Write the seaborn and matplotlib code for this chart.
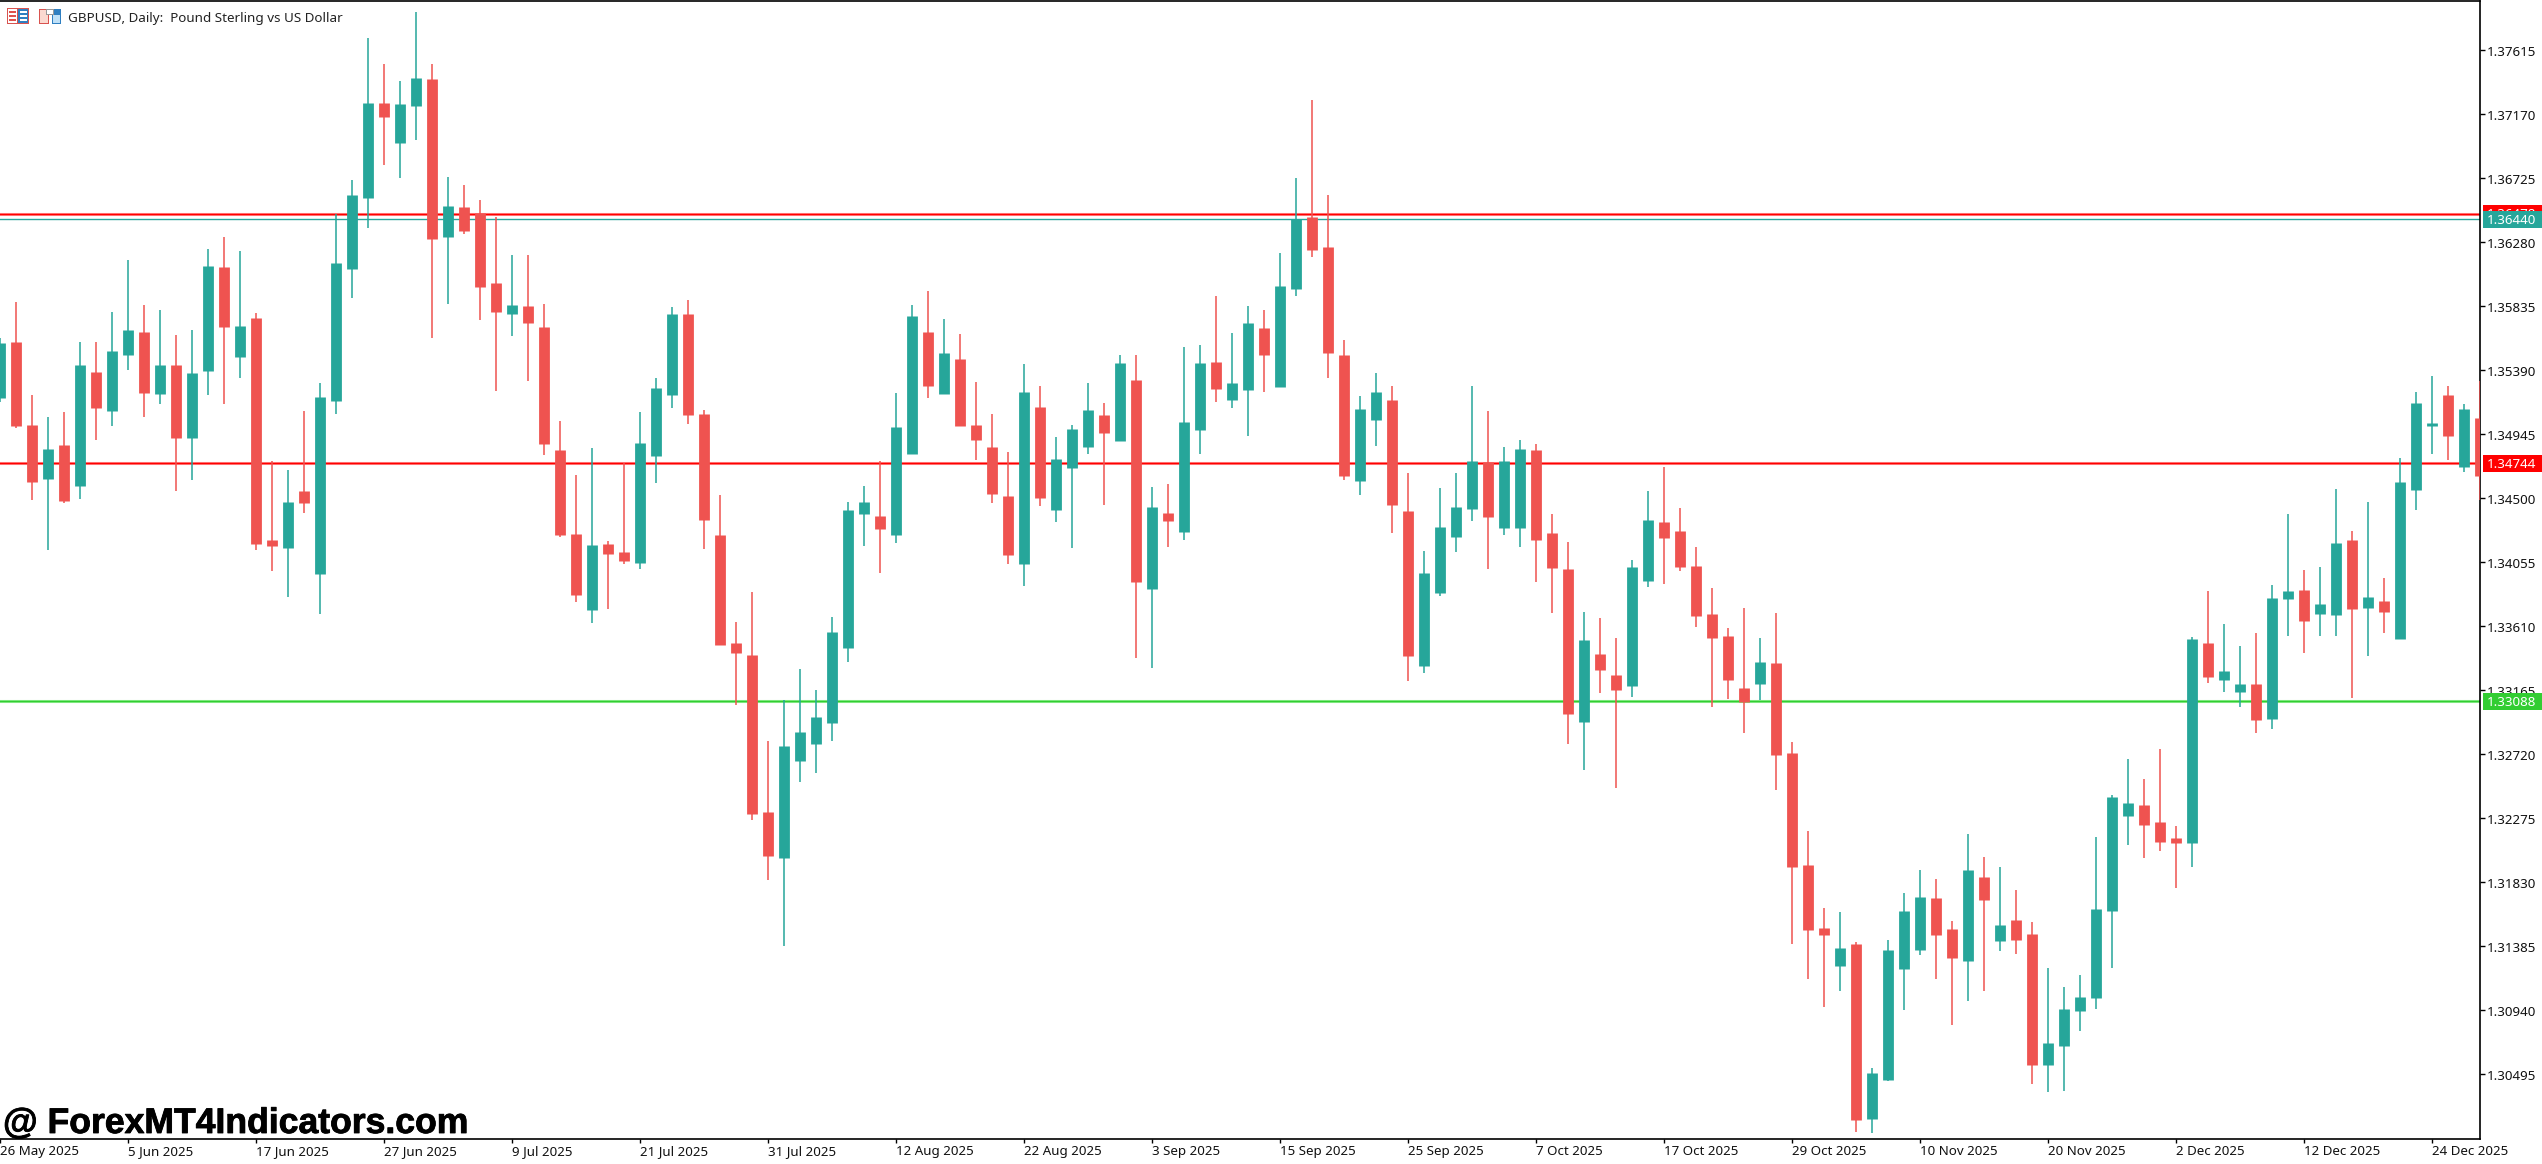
import matplotlib
matplotlib.use("Agg")
import matplotlib.pyplot as plt
from matplotlib.patches import Rectangle
from matplotlib.transforms import ScaledTranslation
import matplotlib.patheffects as pe
import numpy as np
import pandas as pd
import seaborn as sns

# Prices in points (price x 100000)
opens = [135196,135585,135008,134633,134869,134584,135376,135106,135495,135654,
135223,135425,134918,135383,136106,135481,135752,134209,134153,134550,
133973,135175,136093,136586,137246,136969,137225,137413,136315,136524,
136482,135996,135780,135835,135689,134835,134251,133722,134181,134125,
134049,134793,135217,135780,135085,134244,133493,133410,132319,131999,
132673,132791,132937,133458,134390,134376,134244,134807,135654,135223,
135467,135008,134855,134515,134042,135133,134417,134709,134855,135078,
134897,135321,133868,134397,134265,134973,135446,135182,135251,135682,
135272,135954,136454,136245,135495,134619,135043,135182,134410,133333,
133841,134230,134424,134751,134292,134292,134835,134258,134007,132944,
133417,133271,133194,133924,134334,134272,134028,133695,133542,133180,
133208,133354,132728,131950,131512,131248,131401,130184,130455,131227,
131360,131721,131505,131283,131867,131422,131568,131471,130559,130691,
130935,131025,131630,132291,132367,132249,132138,132103,133493,133236,
133153,133208,132965,133799,133861,133695,133688,134209,133736,133785,
133521,134557,135001,135217,134716,135057]
closes = [135578,135001,134612,134841,134480,135425,135126,135523,135668,135230,
135425,134918,135369,136113,135689,135696,134181,134167,134473,134466,
135203,136134,136607,137246,137149,137239,137420,136301,136531,136357,
135968,135794,135842,135717,134876,134244,133827,134174,134112,134063,
134883,135265,135780,135078,134348,133479,133423,132305,132013,132777,
132875,132979,133570,134417,134473,134285,134994,135766,135279,135509,
135001,134904,134529,134105,135237,134501,134772,134980,135113,134953,
135439,133917,134438,134341,135029,135439,135258,135300,135717,135495,
135975,136440,136225,135509,134654,135120,135237,134452,133403,133980,
134299,134438,134758,134369,134758,134841,134209,134014,133000,133514,
133305,133166,134021,134348,134223,134021,133681,133528,133236,133083,
133361,132714,131936,131498,131464,131373,130177,130503,131360,131630,
131728,131464,131304,131915,131707,131533,131429,130559,130712,130948,
131032,131644,132423,132381,132228,132110,132103,133521,133257,133298,
133208,132958,133806,133855,133646,133764,134188,133729,133813,133709,
134612,135161,135022,134932,135120,134654]
highs = [135613,135863,135217,135064,135099,135585,135585,135794,136155,135842,
135807,135634,135668,136231,136315,136217,135787,134758,134695,135106,
135300,136475,136711,137698,137518,137400,137879,137518,136732,136676,
136572,136454,136190,136190,135849,135036,134661,134848,134202,134744,
135099,135335,135828,135877,135113,134522,133639,133848,132812,133097,
133312,133166,133674,134473,134584,134758,135230,135842,135940,135745,
135641,135307,135085,134821,135432,135279,134925,135008,135300,135161,
135495,135495,134577,134598,135550,135564,135905,135648,135835,135807,
136204,136725,137267,136607,135599,135210,135369,135279,134675,134132,
134570,134675,135279,135106,134855,134904,134876,134390,134195,133709,
133667,133528,134070,134550,134716,134431,134160,133875,133597,133736,
133528,133702,132805,132186,131651,131624,131415,130538,131429,131755,
131915,131853,131561,132166,132006,131936,131776,131554,131234,131102,
131185,132145,132437,132687,132548,132756,132221,133535,133855,133625,
133472,133562,133896,134390,134000,134021,134564,134272,134473,133945,
134779,135237,135349,135279,135154,135314]
lows = [135168,134987,134487,134139,134466,134494,134904,135001,135390,135064,
135154,134550,134626,135217,135154,135335,134139,133993,133813,134397,
133695,135085,135891,136377,136816,136725,136989,135613,135849,136336,
135738,135245,135627,135314,134800,134230,133778,133632,133729,134042,
134007,134605,135126,135015,134146,133479,133062,132263,131846,131387,
132527,132589,132812,133361,134167,133980,134188,134807,135196,135223,
135001,134765,134466,134042,133889,134445,134334,134153,134807,134452,
134897,133389,133319,134160,134209,134807,135168,135126,134932,135237,
135272,135905,136176,135335,134626,134522,134862,134258,133229,133285,
133820,134125,134341,134007,134244,134160,133917,133702,132791,132610,
133146,132485,133118,133882,133903,133993,133605,133048,133104,132868,
133097,132471,131401,131158,130962,131074,130094,130087,130448,130942,
131325,131158,130837,131004,131074,131353,131332,130427,130372,130379,
130795,130948,131234,132089,131999,132047,131790,131936,133215,133153,
133048,132868,132896,133542,133423,133542,133542,133111,133403,133562,
133521,134417,134807,134765,134682,134487]

date_labels = ["26 May 2025","5 Jun 2025","17 Jun 2025","27 Jun 2025","9 Jul 2025",
"21 Jul 2025","31 Jul 2025","12 Aug 2025","22 Aug 2025","3 Sep 2025","15 Sep 2025",
"25 Sep 2025","7 Oct 2025","17 Oct 2025","29 Oct 2025","10 Nov 2025","20 Nov 2025",
"2 Dec 2025","12 Dec 2025","24 Dec 2025"]
date_step = 8
price_ticks = [1.30495,1.30940,1.31385,1.31830,1.32275,1.32720,1.33165,1.33610,1.34055,
1.34500,1.34945,1.35390,1.35835,1.36280,1.36725,1.37170,1.37615]
resistance_top = 1.36478
last_price = 1.36440
resistance_mid = 1.34744
support = 1.33088
title = "GBPUSD, Daily:  Pound Sterling vs US Dollar"
watermark = "@ ForexMT4Indicators.com"

TEAL, RED = "#26a69a", "#ef5350"
W, H = 2542, 1164
sns.set_theme(style="white", rc={"axes.edgecolor": "black"})
plt.rcParams["font.family"] = ["Noto Sans", "DejaVu Sans"]

df = pd.DataFrame({"i": np.arange(len(opens)),
                   "open": np.array(opens) / 1e5, "close": np.array(closes) / 1e5,
                   "high": np.array(highs) / 1e5, "low": np.array(lows) / 1e5})
df["dir"] = np.where(df["close"] >= df["open"], "up", "down")
palette = {"up": TEAL, "down": RED}
wicks = df.melt(id_vars=["i", "dir"], value_vars=["high", "low"], value_name="price").sort_values("i", kind="stable")
bodies = df.melt(id_vars=["i", "dir"], value_vars=["open", "close"], value_name="price").sort_values("i", kind="stable")

fig = plt.figure(figsize=(W / 100, H / 100), dpi=100, facecolor="white")
ax = fig.add_axes([-1 / W, 1 - 1138.5 / H, 2481 / W, 1137.5 / H])

def hline(y, core, halo=None):
    if halo:
        ax.axhline(y, color=halo, lw=2.2, zorder=1)
    ax.axhline(y, color=core, lw=1.0 if halo else 1.0, zorder=1.1)

hline(resistance_top, "#ff0000", "#ff8a8a")
hline(last_price, TEAL)
hline(resistance_mid, "#ff0000", "#ff8a8a")
hline(support, "#32cd32", "#90ee90")

common = dict(x="i", y="price", hue="dir", units="i", estimator=None, sort=False,
              palette=palette, legend=False, ax=ax)
sns.lineplot(data=wicks, linewidth=1.1, zorder=3, solid_capstyle="butt", **common)
sns.lineplot(data=bodies, linewidth=10.8 * 0.72, zorder=4, solid_capstyle="butt", **common)

ax.set_xlim(-0.03125, 155.03)
ax.set_ylim(1.30049, 1.37956)
ax.set_xlabel("")
ax.set_ylabel("")
ax.grid(False)
ax.yaxis.tick_right()
ax.set_yticks(price_ticks, [f"{p:.5f}" for p in price_ticks])
ax.set_xticks(np.arange(len(date_labels)) * date_step, date_labels, ha="left")
ax.tick_params(axis="y", length=3.3, width=1.0, pad=1.6, labelsize=9.6, labelcolor="#111111", color="black", right=True)
ax.tick_params(axis="x", length=3.0, width=1.0, pad=1.9, labelsize=9.6, labelcolor="#111111", color="black", bottom=True)
shift_down = ScaledTranslation(0, -1 / 100, fig.dpi_scale_trans)
for lab in ax.get_yticklabels():
    lab.set_transform(lab.get_transform() + shift_down)
for s in ["top", "right", "bottom"]:
    ax.spines[s].set_linewidth(1.2)
    ax.spines[s].set_color("black")
ax.spines["left"].set_visible(False)

def px_rect(x0, y0, x1, y1, color, z=5):
    fig.add_artist(Rectangle((x0 / W, 1 - y1 / H), (x1 - x0) / W, (y1 - y0) / H, transform=fig.transFigure,
                             facecolor=color, edgecolor="none", zorder=z))

def price_label(price, color, z):
    fig.canvas.draw()
    y = H - ax.transData.transform((0, price))[1]
    px_rect(2483, y - 8.5, 2542, y + 8.5, color, z)
    fig.text(2487 / W, 1 - (y + 1.0) / H, f"{price:.5f}", color="white", fontsize=9.6, va="center", ha="left", zorder=z + 0.1)

price_label(resistance_top, "#ff0000", 5)
price_label(last_price, TEAL, 6)
price_label(resistance_mid, "#ff0000", 5)
price_label(support, "#32cd32", 5)

# toolbar icons
px_rect(7, 8, 29, 24, "#d9534f")
px_rect(8, 9, 17, 23, "white")
px_rect(18, 9, 28, 23, "#2f7fc1")
for yy in (11, 15, 19):
    px_rect(9, yy, 16, yy + 2, "#e0524d")
    px_rect(20, yy, 27, yy + 2, "white")
px_rect(39, 9, 49, 24, "#d9534f")
px_rect(40, 10, 48, 23, "#fbd9d0")
px_rect(52, 9, 61, 24, "#2f7fc1")
px_rect(53, 15, 60, 23, "#bfe0f7")
px_rect(46, 9, 54, 15, "#9a9a9a")
px_rect(47, 10, 53, 14, "white")

fig.text(68 / W, 1 - 18.5 / H, title, fontsize=9.7, color="#222222", va="center", ha="left", zorder=5)
fig.text(3 / W, 1 - 1133 / H, watermark, fontsize=25.6, fontweight="bold", family="Liberation Sans",
         color="black", va="baseline", ha="left", zorder=5,
         path_effects=[pe.withStroke(linewidth=0.6, foreground="black")])

fig.savefig("out.png", dpi=100, facecolor="white")
